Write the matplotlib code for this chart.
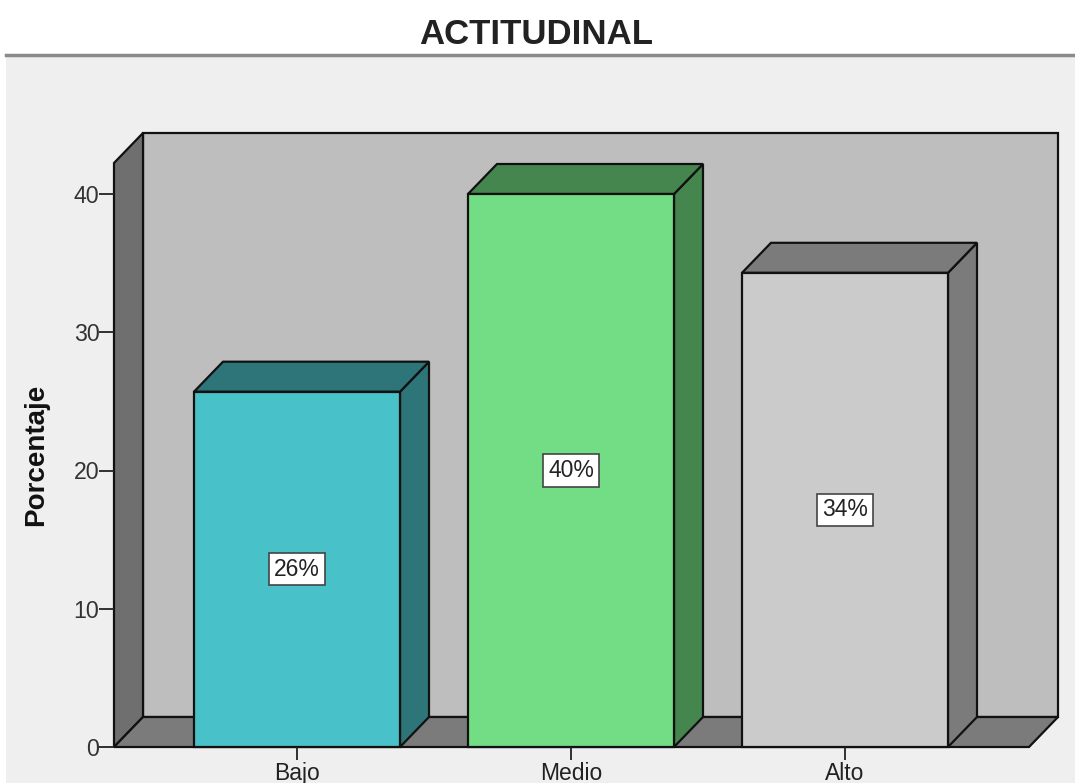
import matplotlib
matplotlib.use('Agg')
import matplotlib.pyplot as plt
from matplotlib.patches import Polygon, Rectangle

plt.rcParams['font.family'] = ['Liberation Sans', 'DejaVu Sans']

categories = ['Bajo', 'Medio', 'Alto']
values = [25.7, 40.0, 34.3]
labels = ['26%', '40%', '34%']
front_colors = ['#48c1c8', '#72dd85', '#cbcbcb']
side_colors = ['#2d7579', '#45864f', '#7b7b7b']
yticks = [0, 10, 20, 30, 40]

W, H = 1075, 783
fig = plt.figure(figsize=(W / 100, H / 100), dpi=100, facecolor='white')

# background panel, pixel coordinates
bg = fig.add_axes([0, 0, 1, 1])
bg.set_xlim(0, W)
bg.set_ylim(H, 0)
bg.axis('off')
bg.add_patch(Rectangle((6, 55), W - 6, H - 55, facecolor='#efefef', edgecolor='none'))
bg.plot([6, W], [54.5, 54.5], color='#8a8a8a', lw=2.5)
bg.text(536, 34, 'ACTITUDINAL', ha='center', va='center', fontsize=25, fontweight='bold', color='#222222')
bg.text(36, 455, 'Porcentaje', rotation=90, ha='center', va='center', fontsize=20, fontweight='bold', color='#111111')

# plot axes: x in pixels, y in data units; front plane of the box
x0, x1, y0_px, y40_px = 114, 1029, 747, 194
dx, dy = 29, 30
ax = fig.add_axes([x0 / W, 1 - y0_px / H, (x1 - x0) / W, (y0_px - y40_px) / H], facecolor='none')
ax.set_xlim(x0, x1)
ax.set_ylim(0, 40)
for s in ax.spines.values():
    s.set_visible(False)
ppu = (y0_px - y40_px) / 40
ddy = dy / ppu
top = (y0_px - 163) / ppu
edge = dict(edgecolor='#111111', linewidth=1.6, clip_on=False)

# box walls
ax.add_patch(Rectangle((x0 + dx, ddy), x1 - x0, top, facecolor='#bebebe', **edge))
ax.add_patch(Polygon([(x0, 0), (x0 + dx, ddy), (x0 + dx, top + ddy), (x0, top)], facecolor='#6f6f6f', **edge))
ax.add_patch(Polygon([(x0, 0), (x1, 0), (x1 + dx, ddy), (x0 + dx, ddy)], facecolor='#7b7b7b', **edge))

bar_left = [194, 468, 742]
bar_w = 206
for left, v, lab, fc, sc in zip(bar_left, values, labels, front_colors, side_colors):
    r = left + bar_w
    ax.add_patch(Polygon([(r, 0), (r + dx, ddy), (r + dx, v + ddy), (r, v)], facecolor=sc, **edge))
    ax.add_patch(Polygon([(left, v), (r, v), (r + dx, v + ddy), (left + dx, v + ddy)], facecolor=sc, **edge))
    ax.add_patch(Rectangle((left, 0), bar_w, v, facecolor=fc, **edge))
    ax.text(left + bar_w / 2, v / 2, lab, ha='center', va='center', fontsize=16.5, color='#222222', zorder=5,
            bbox=dict(boxstyle='square,pad=0.2', facecolor='white', edgecolor='#444444', linewidth=1.2))

ax.set_yticks(yticks)
ax.set_xticks([left + bar_w / 2 for left in bar_left])
ax.set_xticklabels(categories)
ax.tick_params(axis='y', labelsize=16.7, length=10.5, width=1.3, pad=0, color='#222222', labelcolor='#333333')
ax.tick_params(axis='x', labelsize=16.5, length=9.5, width=1.3, pad=1, color='#222222', labelcolor='#222222')

fig.savefig('out.png', dpi=100)
